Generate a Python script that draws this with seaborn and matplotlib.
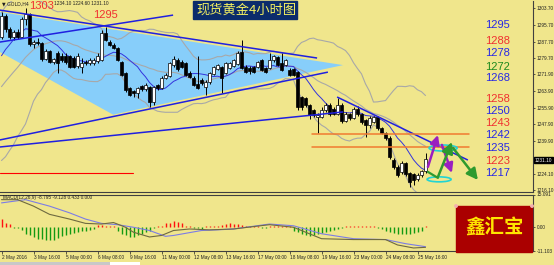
import matplotlib
matplotlib.use("Agg")
import numpy as np
import pandas as pd
import matplotlib.pyplot as plt
import seaborn as sns
from matplotlib.patches import Rectangle, Ellipse

W, H = 554, 265
BG = "#F0E68C"

# ---------------- data ----------------
# closes of the 20 bars before the first visible bar (indicator warm-up)
pre_close = [1243, 1245, 1244, 1247, 1246, 1250, 1252, 1248, 1251, 1262,
             1266, 1264, 1267, 1268, 1272, 1280, 1285, 1289, 1293, 1291]

opens = [1290.0, 1300.0, 1294.0, 1290.0, 1292.5, 1290.0, 1298.5, 1301.0, 1286.5, 1287.5,
         1287.0, 1279.5, 1283.0, 1278.0, 1282.0, 1281.0, 1281.0, 1281.0, 1280.0, 1276.0,
         1275.5, 1278.0, 1277.5, 1277.5, 1278.5, 1279.0, 1291.8, 1287.5, 1286.0, 1284.5,
         1278.0, 1272.6, 1265.3, 1263.9, 1263.0, 1266.3, 1264.8, 1266.0, 1258.6, 1266.8,
         1265.3, 1270.2, 1271.0, 1276.5, 1279.0, 1278.0, 1277.4, 1272.6, 1270.2, 1267.5,
         1269.0, 1265.8, 1268.2, 1272.0, 1274.5, 1275.5, 1272.6, 1275.0, 1276.0, 1277.0,
         1282.7, 1275.5, 1275.0, 1275.5, 1275.5, 1278.8, 1275.0, 1275.0, 1278.8, 1280.5,
         1277.4, 1276.4, 1274.0, 1274.5, 1273.0, 1261.0, 1260.5, 1257.0, 1254.7, 1251.5,
         1251.5, 1254.7, 1257.3, 1255.0, 1253.0, 1257.3, 1249.5, 1253.0, 1251.0, 1255.0,
         1253.0, 1250.0, 1247.5, 1249.0, 1251.5, 1246.0, 1243.5, 1241.2, 1230.6, 1227.3,
         1224.9, 1229.0, 1224.4, 1224.0, 1221.5, 1223.5, 1225.1]
highs = [1302.0, 1301.0, 1295.0, 1293.5, 1294.0, 1299.5, 1303.7, 1301.5, 1288.5, 1289.5,
         1287.5, 1284.0, 1283.5, 1280.0, 1283.0, 1282.0, 1282.0, 1281.5, 1281.0, 1282.0,
         1280.0, 1279.0, 1280.0, 1280.0, 1282.0, 1293.3, 1295.0, 1288.5, 1287.0, 1285.0,
         1278.5, 1273.0, 1266.0, 1264.5, 1266.0, 1267.0, 1268.0, 1266.5, 1266.5, 1267.5,
         1271.0, 1272.5, 1278.0, 1281.0, 1280.0, 1279.0, 1278.0, 1273.5, 1271.0, 1281.0,
         1270.0, 1269.0, 1273.0, 1276.0, 1277.0, 1276.0, 1278.0, 1278.0, 1279.5, 1283.0,
         1288.5, 1276.5, 1276.0, 1276.0, 1278.5, 1279.5, 1275.5, 1282.2, 1281.5, 1281.0,
         1282.2, 1279.5, 1275.0, 1275.0, 1273.5, 1261.5, 1261.0, 1257.5, 1255.0, 1253.5,
         1256.0, 1258.0, 1258.0, 1256.0, 1260.5, 1258.0, 1254.0, 1253.5, 1256.0, 1256.5,
         1253.5, 1250.5, 1252.0, 1252.0, 1252.0, 1246.5, 1244.0, 1242.0, 1231.5, 1228.0,
         1230.0, 1229.5, 1225.0, 1224.5, 1224.5, 1226.0, 1234.1]
lows = [1289.0, 1292.5, 1289.0, 1288.5, 1289.0, 1289.5, 1295.5, 1285.5, 1284.5, 1286.0,
        1278.5, 1279.0, 1277.5, 1277.0, 1272.6, 1278.0, 1277.0, 1275.0, 1275.0, 1275.0,
        1272.5, 1276.5, 1276.5, 1276.5, 1277.5, 1278.5, 1288.0, 1285.5, 1284.0, 1278.5,
        1271.0, 1263.5, 1261.5, 1261.0, 1260.5, 1264.0, 1264.0, 1256.2, 1257.0, 1264.5,
        1265.0, 1269.5, 1270.5, 1275.5, 1273.5, 1275.0, 1271.0, 1270.0, 1266.5, 1265.0,
        1267.0, 1262.0, 1267.5, 1271.5, 1274.0, 1263.0, 1272.0, 1274.5, 1275.5, 1276.5,
        1274.5, 1272.5, 1272.0, 1272.5, 1275.0, 1273.5, 1272.5, 1274.5, 1278.0, 1276.0,
        1273.5, 1276.0, 1271.0, 1271.0, 1254.7, 1254.5, 1256.0, 1250.5, 1251.5, 1243.6,
        1251.0, 1254.0, 1252.0, 1252.5, 1252.5, 1248.5, 1249.0, 1250.0, 1250.5, 1252.0,
        1248.0, 1241.5, 1246.0, 1248.5, 1245.0, 1243.0, 1240.5, 1231.0, 1226.5, 1222.5,
        1224.0, 1223.0, 1217.6, 1218.5, 1220.5, 1222.5, 1224.6]
closes = [1300.0, 1294.0, 1290.0, 1292.5, 1290.0, 1298.5, 1301.0, 1286.5, 1287.5, 1287.0,
          1279.5, 1283.0, 1278.0, 1279.5, 1277.5, 1279.0, 1278.0, 1275.5, 1275.5, 1281.0,
          1277.5, 1277.5, 1279.0, 1279.0, 1281.0, 1291.8, 1288.5, 1286.0, 1284.5, 1279.0,
          1271.6, 1264.4, 1262.0, 1263.0, 1265.3, 1264.8, 1266.8, 1258.6, 1265.8, 1265.3,
          1270.2, 1271.6, 1277.4, 1279.5, 1274.5, 1275.5, 1271.6, 1270.6, 1266.8, 1265.5,
          1267.8, 1268.2, 1272.6, 1275.5, 1276.4, 1270.2, 1277.4, 1277.4, 1278.8, 1282.2,
          1275.0, 1273.0, 1273.5, 1273.0, 1278.0, 1274.0, 1273.0, 1278.8, 1281.0, 1276.4,
          1274.0, 1278.8, 1271.6, 1271.6, 1256.2, 1256.0, 1257.0, 1252.3, 1252.3, 1252.5,
          1254.7, 1257.3, 1253.0, 1253.0, 1257.3, 1249.5, 1253.0, 1250.7, 1255.0, 1253.0,
          1249.0, 1247.5, 1251.0, 1251.5, 1246.0, 1243.5, 1241.0, 1232.0, 1227.3, 1223.5,
          1229.2, 1224.0, 1220.1, 1221.0, 1223.5, 1225.3, 1231.1]

macd_hist = [3.7, 2.1, 1.4, -0.4, -0.4, -1.3, -3.1, -3.9, -4.6, -5.4,
             -5.4, -5.8, -5.8, -5.8, -4.9, -4.3, -3.9, -3.1, -2.8, -2.4,
             -1.9, -1.6, -1.3, -0.9, 1.1, 1.1, 0.6, 0.6, 0.4, -1.6,
             -3.1, -3.9, -4.6, -4.6, -3.9, -3.1, -2.4, -1.6, -0.4, 0.4,
             0.6, 1.9, 2.1, 2.9, 2.5, 1.7, 0.6, 0.4, -0.4, -0.6,
             -0.9, 0.4, 0.4, 0.6, 0.6, 1.1, 1.4, 1.7, 1.4, 1.4,
             0.9, 0.6, 0.4, 0.4, 0.4, -0.4, -0.4, 0.4, 0.4, 0.4,
             0.4, 0.4, 0.4, -1.6, -2.4, -3.4, -3.9, -4.3, -3.9, -3.4,
             -2.8, -2.4, -1.6, -1.3, -0.9, -0.4, 0.4, 0.4, 0.4, 0.4,
             0.4, 0.4, 0.4, 0.4, -0.4, -0.9, -1.6, -2.4, -2.8, -3.1,
             -3.4, -3.4, -3.1, -2.8, -2.4, -1.9, 0.43]
macd_a_bars = [0, 6, 12, 17, 21, 25, 29, 33, 37, 41, 43, 50, 54, 58, 67, 73, 80, 88, 96, 101, 106]
macd_a_vals = [11.2, 12.7, 9.7, 6.6, 3.7, 1.7, 1.1, -0.1, -1.6, -4.3, -3.9, -1.6, -1.3, -0.9,
               1.4, 0.6, -3.1, -5.4, -5.8, -7.7, -9.1]
macd_b_bars = [0, 4, 8, 12, 17, 21, 25, 28, 31, 33, 37, 40, 43, 47, 52, 58, 67, 73, 80, 88, 96, 99, 103, 106]
macd_b_vals = [12.7, 12.7, 9.7, 5.9, 3.7, 1.7, 1.4, 2.1, -0.1, -2.4, -4.6, -3.9, -1.6, -0.9,
               -1.3, -0.9, 1.1, -0.1, -5.4, -5.8, -5.8, -8.3, -9.7, -9.4]

date_ticks = [0, 8, 16, 24, 32, 40, 48, 56, 64, 72, 80, 88, 96, 104]
date_labels = ["2 May 2016", "3 May 16:00", "5 May 00:00", "6 May 08:00", "9 May 16:00",
               "11 May 00:00", "12 May 08:00", "13 May 16:00", "17 May 00:00", "18 May 08:00",
               "19 May 16:00", "23 May 00:00", "24 May 08:00", "25 May 16:00"]
price_ticks = [1303.70, 1295.70, 1287.70, 1279.70, 1271.90, 1263.90, 1255.90, 1247.90,
               1239.90, 1224.10, 1216.10]
macd_ticks = [15.091, 0.0, -11.103]
macd_tick_labels = ["15.091", "0.00", "-11.103"]

# drawing objects (bar index, price)
wedge_bars = [-0.4, 85.4, 27.9, -0.4]
wedge_prices = [1302.0, 1276.4, 1252.5, 1282.7]
trend_lines = [([-0.4, 78.9], [1302.9, 1279.8]),
               ([-0.4, 42.9], [1287.5, 1300.5]),
               ([-0.4, 81.6], [1240.3, 1273.0]),
               ([-0.4, 85.4], [1236.9, 1253.8]),
               ([83.9, 116.6], [1261.0, 1230.6])]
orange_levels = [1243.2, 1236.8]
orange_span = [77.6, 116.9]
red_level = 1224.2
red_span = [-0.4, 32.9]
purple_arrows = [((106.6, 1227.3), (109.1, 1242.7)), ((110.1, 1237.9), (112.6, 1224.4))]
green_arrows = [((109.1, 1222.4), (112.6, 1239.3)), ((112.9, 1236.4), (119.1, 1221.0))]
green_tail = ([106.6, 109.1], [1224.9, 1222.0])
ellipses = [((110.4, 1236.4), 7.0, 2.9), ((109.4, 1221.3), 6.0, 2.4)]

level_texts = ["1295", "1288", "1278", "1272", "1268", "1258", "1250", "1243",
               "1242", "1235", "1223", "1217"]
level_kinds = ["b", "r", "b", "g", "b", "r", "b", "r", "b", "b", "r", "b"]

# ---------------- style ----------------
sns.set_theme(style="white", rc={"axes.facecolor": BG, "figure.facecolor": BG})
plt.rcParams["font.family"] = ["Liberation Sans", "DejaVu Sans"]
CJK = ["Noto Sans CJK SC", "DejaVu Sans"]
KIND_COL = {"b": "#2828E6", "r": "#F03030", "g": "#1E8A1E"}

n = len(closes)
bars = np.arange(n)
allc = pd.Series(pre_close + closes, dtype=float)
ma10 = allc.rolling(10).mean().iloc[-n:].to_numpy()
mid = allc.rolling(20).mean().iloc[-n:].to_numpy()
sd = allc.rolling(20).std(ddof=0).iloc[-n:].to_numpy()
upper, lower = mid + 2 * sd, mid - 2 * sd

fig = plt.figure(figsize=(W / 100, H / 100), dpi=100)
fig.patch.set_facecolor(BG)


def fx(px):
    return px / W


def fy(py):
    return 1 - py / H


ax = fig.add_axes([0, fy(192), fx(533), (192 - 1) / H])
ax2 = fig.add_axes([0, fy(251), fx(533), (251 - 194.5) / H])
for a in (ax, ax2):
    a.set_facecolor(BG)
    a.set_xlim(-0.375, 132.875)
    for s in ("left", "top"):
        a.spines[s].set_visible(False)
    for s in ("right", "bottom"):
        a.spines[s].set_color("#404040")
        a.spines[s].set_linewidth(0.8)
ax2.spines["top"].set_visible(True)
ax2.spines["top"].set_color("#404040")
ax2.spines["top"].set_linewidth(0.8)

ax.set_ylim(1215.2, 1307.3)

# wedge fill
ax.fill(wedge_bars, wedge_prices, color="#87CEFA", lw=0, zorder=0.5)

# indicators
for vals, col, lw in ((upper, "#A8A8A8", 0.8), (mid, "#A8A8A8", 0.8),
                      (lower, "#A8A8A8", 0.8), (ma10, "#3333DD", 0.7)):
    sns.lineplot(x=bars, y=vals, ax=ax, color=col, linewidth=lw, legend=False, zorder=2)

# candles
o, h, l, c = map(np.array, (opens, highs, lows, closes))
up = c >= o
ax.vlines(bars, l, h, color="black", lw=0.7, zorder=3)
bb = np.minimum(o, c)
bh = np.maximum(np.abs(c - o), 0.35)
ax.bar(bars[up], bh[up], bottom=bb[up], width=0.62, color="white",
       edgecolor="black", linewidth=0.5, zorder=3.5)
ax.bar(bars[~up], bh[~up], bottom=bb[~up], width=0.62, color="black",
       edgecolor="black", linewidth=0.5, zorder=3.5)

# trend lines & levels
for xs, ys in trend_lines:
    ax.plot(xs, ys, color="#2020E0", lw=1.1, zorder=4, solid_capstyle="butt")
for lv in orange_levels:
    ax.plot(orange_span, [lv, lv], color="#F07A30", lw=1.1, zorder=4)
ax.plot(red_span, [red_level, red_level], color="#FF0000", lw=0.8, zorder=4)

# arrows, ellipses
for (s, e) in purple_arrows:
    ax.annotate("", xy=e, xytext=s, zorder=6,
                arrowprops=dict(arrowstyle="-|>,head_width=0.25,head_length=0.5",
                                color="#9A1FC0", lw=1.8, mutation_scale=11, shrinkA=0, shrinkB=0))
ax.plot(*green_tail, color="#2E9A2E", lw=1.6, zorder=6)
for (s, e) in green_arrows:
    ax.annotate("", xy=e, xytext=s, zorder=6,
                arrowprops=dict(arrowstyle="-|>,head_width=0.28,head_length=0.55",
                                color="#2E9A2E", lw=1.8, mutation_scale=12, shrinkA=0, shrinkB=0))
for (cen, w, hh) in ellipses:
    ax.add_patch(Ellipse(cen, w, hh, fill=False, edgecolor="#22D4D4", lw=1.2, zorder=5))

# right price axis
ax.yaxis.tick_right()
ax.set_xticks([])
ax.set_yticks(price_ticks)
ax.set_yticklabels([f"{v:.2f}" for v in price_ticks])
ax.tick_params(axis="y", which="both", right=True, length=1.5, width=0.5, pad=1,
               labelsize=3.4, colors="#202020")

# MACD panel
hist = np.array(macd_hist)
cols = np.where(hist >= 0, "#FF1010", "#129A12")
ax2.vlines(bars, 0, hist, colors=cols, lw=1.0, zorder=2)
sns.lineplot(x=macd_a_bars, y=macd_a_vals, ax=ax2, color="#7C7CE6", linewidth=0.8,
             legend=False, zorder=3)
sns.lineplot(x=macd_b_bars, y=macd_b_vals, ax=ax2, color="#6E6A40", linewidth=0.8,
             legend=False, zorder=3)
ax2.set_ylim(-11.103, 15.091)
ax2.yaxis.tick_right()
ax2.set_yticks(macd_ticks)
ax2.set_yticklabels(macd_tick_labels)
ax2.tick_params(axis="y", right=True, length=1.5, width=0.5, pad=1, labelsize=3.4,
                colors="#202020")
ax2.set_xticks(date_ticks)
ax2.set_xticklabels(date_labels, ha="left")
ax2.tick_params(axis="x", bottom=True, length=2.0, width=0.5, pad=0.8, labelsize=3.4,
                colors="#202020")
ax.set_xlabel(""); ax.set_ylabel(""); ax2.set_xlabel(""); ax2.set_ylabel("")

# texts (header is partly covered by the red "1303" in the reference)
fig.text(fx(2), fy(3.5), "\u25BC GOLD,H4", fontsize=3.4,
         color="#202020", va="center", ha="left", family=["DejaVu Sans"], zorder=10)
fig.text(fx(54), fy(3.5), "1234.10 1224.60 1231.10", fontsize=3.4,
         color="#202020", va="center", ha="left", zorder=10)
fig.text(fx(29), fy(6), "1303", fontsize=8, color="#F03030", va="center", ha="left", zorder=11)
fig.text(fx(93), fy(15), "1295", fontsize=8, color="#F03030", va="center", ha="left", zorder=11)
fig.text(fx(3), fy(197.5), "MACD(12,26,9) -8.795 -9.128 0.433 0.000", fontsize=3.4,
         color="#202020", va="center", ha="left", zorder=10)

level_y = [25, 41, 53, 66.5, 78, 99, 111, 123, 135, 148, 161, 173]
for t, k, yy in zip(level_texts, level_kinds, level_y):
    fig.text(fx(485), fy(yy), t, fontsize=8, color=KIND_COL[k], va="center", ha="left", zorder=10)

# current price tag
fig.text(fx(535), fy(160), "1231.10", fontsize=3.4, color="white", va="center", ha="left",
         bbox=dict(boxstyle="square,pad=0.15", fc="black", ec="black"), zorder=12)

# title box
fig.patches.append(Rectangle((fx(193), fy(19)), fx(104), 18 / H, transform=fig.transFigure,
                             facecolor="#0B2C6B", edgecolor="#0B2C6B", zorder=8))
fig.text(fx(196), fy(10.5), "现货黄金4小时图", fontsize=9.5, color="#F4F060",
         va="center", ha="left", family=CJK, zorder=9)

# brand box
fig.patches.append(Rectangle((fx(456), fy(252)), fx(76), 46 / H, transform=fig.transFigure,
                             facecolor="#AA0000", edgecolor="#AA0000", zorder=8))
for cxp in (456, 532):
    fig.patches.append(Ellipse((fx(cxp), fy(206)), fx(2.5), 2.5 / H, transform=fig.transFigure,
                               facecolor="#F4B0B0", edgecolor="#F4B0B0", zorder=9))
fig.text(fx(495), fy(228), "鑫汇宝", fontsize=14, color="#FFE600", fontweight="bold",
         va="center", ha="center", family=CJK, zorder=10)

# bottom strip
fig.patches.append(Rectangle((0, 0), fx(110), 3 / H, transform=fig.transFigure,
                             facecolor="#C8C8C8", edgecolor="none", zorder=1))
fig.patches.append(Rectangle((fx(110), 0), fx(30), 3 / H, transform=fig.transFigure,
                             facecolor="white", edgecolor="none", zorder=1))

fig.savefig("out.png", dpi=100, facecolor=BG)
